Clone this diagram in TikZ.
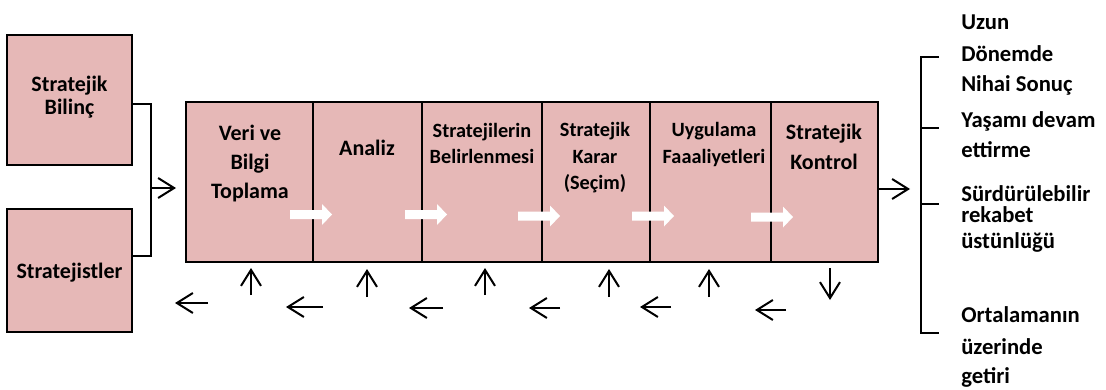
\documentclass[tikz,border=0pt]{standalone}
\usepackage{fontspec}
\setmainfont{Carlito}
\usetikzlibrary{arrows.meta,fit}
\definecolor{cellpink}{HTML}{E6B8B7}
\begin{document}
\begin{tikzpicture}[x=0.75pt,y=-0.75pt,
  box/.style={draw=black, line width=1.5pt, fill=cellpink, inner sep=0pt},
  wire/.style={draw=black, line width=1.5pt},
  arr/.style={draw=black, line width=1.5pt, -{Straight Barb[length=12pt,width=15pt]}},
  big/.style={anchor=base, inner sep=0pt, font=\bfseries\fontsize{16.5}{20}\selectfont},
  small/.style={anchor=base, inner sep=0pt, font=\bfseries\fontsize{15.2}{18}\selectfont},
  side/.style={anchor=base west, inner sep=0pt, font=\bfseries\fontsize{17}{20}\selectfont},
  pics/blockarr/.style={code={
    \fill[white] (0,-4.5) -- (32,-4.5) -- (32,-10.5) -- (42,0) -- (32,10.5) -- (32,4.5) -- (0,4.5) -- cycle;}}
]
\useasboundingbox (0,0) rectangle (1106,389);

% input boxes on the left
\node[box, fit={(7,35) (132,165)}] (bilinc) {};
\node[box, fit={(7,209) (132,332)}] (strat) {};

% process chain
\node[box, fit={(186,102) (313,262)}] (c1) {};
\node[box, fit={(313,102) (422,262)}] (c2) {};
\node[box, fit={(422,102) (542,262)}] (c3) {};
\node[box, fit={(542,102) (650,262)}] (c4) {};
\node[box, fit={(650,102) (771,262)}] (c5) {};
\node[box, fit={(771,102) (878,262)}] (c6) {};

% white flow arrows inside the chain
\pic at (290,214.5) {blockarr};
\pic at (405,214.5) {blockarr};
\pic at (518,216) {blockarr};
\pic at (632,216) {blockarr};
\pic at (751,217) {blockarr};

% labels of the boxes
\node[big] (la) at (69.5,91) {Stratejik};
\node[big] (lb) at (69.5,114) {Bilinç};
\node[big] (lc) at (69.5,278) {Stratejistler};

\node[big] (t1a) at (250,140) {Veri ve};
\node[big] (t1b) at (250,169) {Bilgi};
\node[big] (t1c) at (250,198) {Toplama};
\node[big] (t2) at (367,155) {Analiz};
\node[small] (t3a) at (482,137) {Stratejilerin};
\node[small] (t3b) at (482,163) {Belirlenmesi};
\node[small] (t4a) at (595,136) {Stratejik};
\node[small] (t4b) at (595,163) {Karar};
\node[small] (t4c) at (595,189) {(Seçim)};
\node[small] (t5a) at (714,136) {Uygulama};
\node[small] (t5b) at (714,163) {Faaaliyetleri};
\node[big] (t6a) at (824,139) {Stratejik};
\node[big] (t6b) at (824,169) {Kontrol};

% bracket joining the two inputs
\coordinate (lbT) at (151,104);
\coordinate (lbB) at (151,256);
\coordinate (lbM) at (151,188);
\draw[wire] (bilinc.east |- lbT) -- (lbT) -- (lbB) -- (strat.east |- lbB);
\draw[arr] (lbM) -- ([xshift=-6.75pt]c1.west |- lbM);

% output bracket
\coordinate (rbTip) at (910,189);
\draw[arr] (c6.east |- rbTip) -- (rbTip);
\coordinate (rbT) at (921,57);
\coordinate (rbB) at (921,333);
\draw[wire] (939,57) -- (rbT) -- (rbB) -- (939,333);
\draw[wire] (921,128) -- (939,128);
\draw[wire] (921,204) -- (939,204);

% outcomes
\node[side] (o1) at (961,29) {Uzun};
\node[side] (o2) at (961,61) {Dönemde};
\node[side] (o3) at (961,91) {Nihai Sonuç};
\node[side] (o4) at (961,127) {Yaşamı devam};
\node[side] (o5) at (961,157) {ettirme};
\node[side] (o6) at (961,201) {Sürdürülebilir};
\node[side] (o7) at (961,222) {rekabet};
\node[side] (o8) at (961,248) {üstünlüğü};
\node[side] (o9) at (961,322) {Ortalamanın};
\node[side] (o10) at (961,354) {üzerinde};
\node[side] (o11) at (961,383) {getiri};

% feedback arrows below the chain
\foreach \x/\yt/\yb in {251/268/295, 367/269/297, 485/268/295, 609/269/297, 709/269/297}
  \draw[arr] (\x,\yb) -- (\x,\yt);
\draw[arr] (830,268) -- (830,300);
\foreach \xa/\xb/\y in {175/208/303, 286/323/307, 409/443/308, 529/560/308, 640/671/307, 755/786/310}
  \draw[arr] (\xb,\y) -- (\xa,\y);
\end{tikzpicture}
\end{document}
